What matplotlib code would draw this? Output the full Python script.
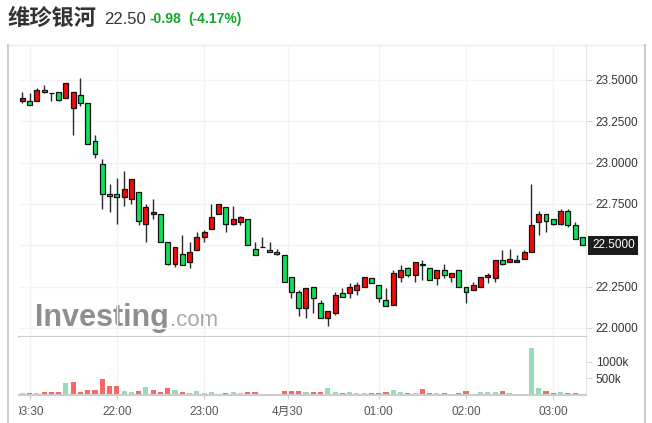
import matplotlib
matplotlib.use('Agg')
import matplotlib.pyplot as plt
import matplotlib.transforms as mtransforms
from matplotlib.lines import Line2D
import numpy as np

plt.rcParams['font.family'] = ['Liberation Sans', 'Noto Sans CJK SC']

# --- data (5 min candles) ---
name = '维珍银河'
last_price = 22.50
change = -0.98
change_pct = -4.17

opens = [23.37, 23.37, 23.37, 23.44, 23.42, 23.43, 23.39, 23.33, 23.41, 23.36,
         23.13, 22.99, 22.81, 22.81, 22.79, 22.78, 22.82, 22.63, 22.69, 22.69,
         22.52, 22.39, 22.45, 22.40, 22.47, 22.55, 22.60, 22.69, 22.73, 22.63,
         22.64, 22.66, 22.48, 22.49, 22.47, 22.46, 22.44, 22.31, 22.22, 22.12,
         22.25, 22.15, 22.06, 22.09, 22.21, 22.21, 22.23, 22.25, 22.30, 22.26,
         22.17, 22.14, 22.31, 22.36, 22.32, 22.39, 22.36, 22.30, 22.35, 22.31,
         22.35, 22.25, 22.23, 22.25, 22.31, 22.30, 22.41, 22.40, 22.40, 22.42,
         22.46, 22.64, 22.69, 22.66, 22.63, 22.71, 22.62, 22.55]
highs = [23.43, 23.42, 23.45, 23.47, 23.42, 23.43, 23.48, 23.43, 23.51, 23.36,
         23.17, 23.02, 22.87, 22.91, 22.95, 22.90, 22.82, 22.75, 22.78, 22.69,
         22.52, 22.49, 22.56, 22.52, 22.58, 22.59, 22.75, 22.75, 22.73, 22.74,
         22.68, 22.66, 22.52, 22.55, 22.52, 22.48, 22.44, 22.31, 22.23, 22.24,
         22.25, 22.17, 22.10, 22.22, 22.24, 22.27, 22.28, 22.31, 22.30, 22.26,
         22.24, 22.35, 22.38, 22.37, 22.40, 22.41, 22.36, 22.35, 22.39, 22.33,
         22.35, 22.25, 22.28, 22.31, 22.33, 22.41, 22.47, 22.48, 22.44, 22.47,
         22.87, 22.71, 22.69, 22.66, 22.72, 22.72, 22.64, 22.55]
lows = [23.36, 23.35, 23.37, 23.42, 23.37, 23.37, 23.39, 23.17, 23.34, 23.11,
        23.03, 22.72, 22.70, 22.63, 22.74, 22.75, 22.62, 22.52, 22.66, 22.52,
        22.38, 22.37, 22.38, 22.36, 22.47, 22.52, 22.60, 22.69, 22.58, 22.62,
        22.62, 22.50, 22.44, 22.49, 22.46, 22.44, 22.28, 22.18, 22.07, 22.06,
        22.09, 22.06, 22.01, 22.08, 22.19, 22.18, 22.20, 22.25, 22.27, 22.16,
        22.13, 22.14, 22.28, 22.31, 22.28, 22.29, 22.29, 22.26, 22.30, 22.28,
        22.25, 22.15, 22.23, 22.25, 22.27, 22.28, 22.38, 22.40, 22.40, 22.42,
        22.46, 22.56, 22.58, 22.62, 22.62, 22.61, 22.54, 22.50]
closes = [23.39, 23.35, 23.44, 23.43, 23.42, 23.38, 23.48, 23.43, 23.36, 23.11,
          23.05, 22.81, 22.80, 22.79, 22.84, 22.90, 22.65, 22.73, 22.70, 22.52,
          22.39, 22.49, 22.38, 22.46, 22.55, 22.58, 22.67, 22.75, 22.63, 22.66,
          22.67, 22.50, 22.44, 22.49, 22.46, 22.45, 22.28, 22.22, 22.12, 22.24,
          22.18, 22.06, 22.10, 22.20, 22.19, 22.25, 22.26, 22.31, 22.27, 22.18,
          22.13, 22.33, 22.35, 22.32, 22.40, 22.38, 22.29, 22.35, 22.32, 22.33,
          22.25, 22.22, 22.26, 22.31, 22.32, 22.41, 22.39, 22.42, 22.41, 22.46,
          22.62, 22.69, 22.65, 22.63, 22.71, 22.62, 22.54, 22.50]

volumes_k = [50, 50, 50, 80, 80, 80, 370, 400, 100, 160,
             160, 490, 280, 280, 130, 100, 130, 250, 160, 100,
             220, 160, 100, 70, 130, 70, 100, 40, 70, 100,
             70, 100, 80, 40, 20, 40, 130, 130, 130, 100,
             80, 80, 220, 100, 50, 80, 50, 50, 50, 50,
             80, 160, 80, 50, 50, 190, 50, 50, 50, 20,
             50, 110, 20, 80, 80, 80, 110, 50, 20, 20,
             1420, 220, 130, 50, 80, 50, 50, 10]
vol_dir = ("grgrrrgrrr" "rrrrggrgrr" "rgrgggggrg" "grrgrrrrrg"
           "rrggrgggrr" "rggrgrrgrg" "rrggggrgrg" "ggrrgrrg")

time_pos = [2, 14, 26, 37.5, 50, 62, 74]
time_labels = ['03:30', '22:00', '23:00', '4月30', '01:00', '02:00', '03:00']
price_ticks = [22.0, 22.25, 22.5, 22.75, 23.0, 23.25, 23.5]
vol_ticks = [500, 1000]

RED = '#f40a0a'
GREEN = '#0fe05c'
VRED = '#f46868'
VGREEN = '#98dabc'

W, H = 652, 423
fig = plt.figure(figsize=(W / 100, H / 100), dpi=100)


def box(x0, y0, x1, y1):
    return [x0 / W, 1 - y1 / H, (x1 - x0) / W, (y1 - y0) / H]


ax = fig.add_axes(box(19, 45, 586, 337))
axv = fig.add_axes(box(19, 337, 586, 395), sharex=ax)

x = np.arange(1, len(opens) + 1)
o = np.array(opens)
c = np.array(closes)
body_col = np.where(c > o, RED, np.where(c < o, GREEN, '#333333'))

ax.vlines(x, lows, highs, color='#2a2a2a', lw=1, zorder=2)
ax.bar(x, np.maximum(np.abs(c - o), 0.002), 0.68, np.minimum(o, c),
       color=body_col, edgecolor='#111111', linewidth=0.9, zorder=3)

vcol = [VRED if d == 'r' else VGREEN for d in vol_dir]
axv.bar(x, volumes_k, 0.7, color=vcol, linewidth=0, zorder=2)

ax.set_xlim(0.55, 78.5)
ax.set_ylim(21.9455, 23.7117)
axv.set_ylim(0, 1750)

for a in (ax, axv):
    a.set_facecolor('white')
    a.spines['top'].set_visible(False)
    a.spines['left'].set_visible(False)
    a.spines['right'].set_color('#e2e6eb')
    a.spines['bottom'].set_color('#cccccc')
    a.spines['bottom'].set_linewidth(1.5)
    a.yaxis.tick_right()
    a.tick_params(axis='y', length=4, color='#d8d8d8', pad=3,
                  labelsize=8.5, labelcolor='#333333')
    a.set_xticks(time_pos)
    a.grid(True, axis='x', color='#f3f3f3', lw=1)
    a.set_axisbelow(True)

ax.grid(True, axis='y', color='#f3f3f3', lw=1)
ax.set_yticks(price_ticks)
# the 22.5 label sits under the current-price marker
ax.set_yticklabels(['' if v == last_price else f'{v:.4f}' for v in price_ticks])
ax.tick_params(axis='x', bottom=False, labelbottom=False)

axv.set_yticks(vol_ticks)
axv.set_yticklabels([f'{v}k' for v in vol_ticks])
axv.set_xticklabels(time_labels)
axv.tick_params(axis='x', length=3, color='#cccccc', pad=5,
                labelsize=8.5, labelcolor='#555555')

# first time label is cut by the chart's left edge
clip = mtransforms.Bbox.from_extents(19, 0, W, H)
lbl = axv.xaxis.get_major_ticks()[0].label1
lbl.set_clip_box(clip)
lbl.set_clip_on(True)

# current price marker
trans = mtransforms.blended_transform_factory(ax.transAxes, ax.transData)
ax.text(1.0 + 6 / 567, last_price, f'{last_price:.4f}', transform=trans,
        ha='left', va='center', color='white', fontsize=8.5, zorder=6,
        bbox=dict(boxstyle='square,pad=0.3', fc='#1c1c1c', ec='none'))

# watermark
ax.text(35 / W, 1 - 326 / H, 'Investing', transform=fig.transFigure,
        fontsize=22, fontweight='bold', color='#8e8e8e', zorder=0.5)
ax.text(170 / W, 1 - 326 / H, '.com', transform=fig.transFigure,
        fontsize=16, color='#a8a8a8', zorder=0.5)

# header
fig.text(8 / W, 1 - 18 / H, name, family=['Noto Sans CJK SC'],
         fontsize=16, fontweight='bold', color='#333333', va='center')
fig.text(104 / W, 1 - 19 / H, f'{last_price:.2f}', fontsize=12,
         color='#333333', va='center')
fig.text(150 / W, 1 - 19 / H, f'{change:.2f}', fontsize=10,
         fontweight='bold', color='#0ea82a', va='center')
fig.text(188 / W, 1 - 19 / H, f'({change_pct:.2f}%)', fontsize=10,
         fontweight='bold', color='#0ea82a', va='center')

# container frame
fig.add_artist(Line2D([8 / W, 645 / W], [1 - 45 / H, 1 - 45 / H],
                      transform=fig.transFigure, color='#ececec', lw=1))
fig.add_artist(Line2D([8 / W, 8 / W], [0, 1 - 45 / H],
                      transform=fig.transFigure, color='#cccccc', lw=1.5))
fig.add_artist(Line2D([645 / W, 645 / W], [0, 1 - 45 / H],
                      transform=fig.transFigure, color='#cccccc', lw=1.5))

fig.savefig('out.png', dpi=100)
